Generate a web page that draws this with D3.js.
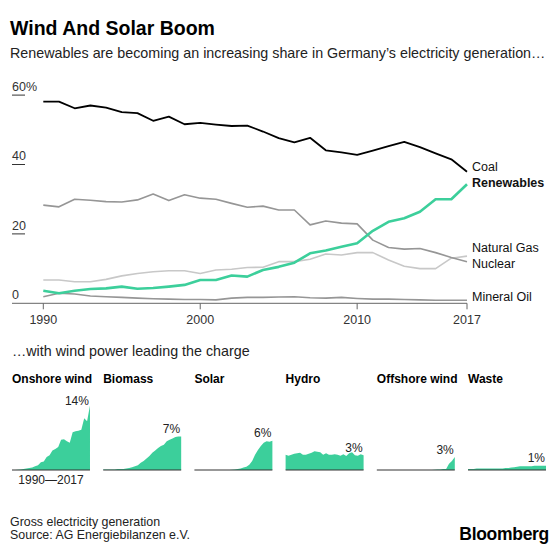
<!DOCTYPE html>
<html><head><meta charset="utf-8">
<script src="https://cdn.jsdelivr.net/npm/d3@7"></script>
<style>
body{margin:0;background:#fff}
svg{display:block}
text{font-family:"Liberation Sans",Arial,Helvetica,sans-serif}
</style>
</head><body>
<svg id="c" width="560" height="546"></svg>
<script>
// ---------- data ----------
const years = [1990,1991,1992,1993,1994,1995,1996,1997,1998,1999,2000,2001,2002,2003,2004,2005,2006,2007,2008,2009,2010,2011,2012,2013,2014,2015,2016,2017];
const coal       = [58.1,58.1,56.2,57.0,56.4,55.1,54.8,52.6,53.8,51.6,52.0,51.5,51.1,51.2,49.5,47.6,46.4,47.7,44.1,43.5,42.8,44.0,45.3,46.5,45.0,43.2,41.5,37.9];
const renewables = [3.6,2.9,3.6,4.1,4.3,4.8,4.2,4.4,4.8,5.3,6.7,6.7,8.0,7.7,9.6,10.5,11.7,14.4,15.2,16.3,17.3,20.9,23.5,24.5,26.4,30.0,30.0,34.3];
const naturalGas = [6.7,6.7,6.2,6.2,6.9,7.9,8.6,9.1,9.4,9.4,8.6,9.6,9.8,10.3,10.4,12.0,12.0,12.7,14.2,13.9,14.6,14.6,12.5,10.7,10.0,10.0,13.0,13.6];
const nuclear    = [28.3,27.8,30.0,29.7,29.3,29.2,29.8,31.5,29.6,31.3,30.3,30.0,28.8,27.7,28.0,26.9,26.9,22.6,23.7,23.1,22.9,18.2,16.1,15.6,15.8,14.6,13.2,12.0];
const mineralOil = [1.9,2.9,2.7,2.1,1.9,1.7,1.5,1.3,1.2,1.1,1.1,1.0,1.5,1.7,1.7,1.8,1.9,1.6,1.5,1.7,1.4,1.2,1.2,1.1,1.0,0.9,0.9,0.9];
const lineNames  = ["Natural Gas","Nuclear","Mineral Oil","Coal","Renewables"];
const yTicks = [0,20,40,60];
const yTickLabels = ["0","20","40","60%"];
const xTicks = [1990,2000,2010,2017];

const onshoreWind  = [0.0,0.0,0.05,0.1,0.2,0.3,0.4,0.5,0.8,1.0,1.6,1.8,2.7,3.1,4.1,4.4,4.8,6.3,6.4,6.0,5.7,7.9,8.1,8.2,8.4,10.8,10.2,13.5];
const biomass      = [0.1,0.1,0.1,0.1,0.1,0.2,0.2,0.2,0.3,0.4,0.6,0.8,1.0,1.5,1.9,2.4,2.9,3.6,4.1,4.6,5.0,5.3,6.0,6.3,6.6,6.9,7.0,7.0];
const solar        = [0,0,0,0,0,0,0,0,0,0,0,0,0,0.05,0.1,0.2,0.3,0.5,0.7,1.1,1.9,3.2,4.2,5.0,5.7,6.0,5.9,6.1];
const hydro        = [3.2,3.0,3.2,3.4,3.5,3.6,3.2,3.2,3.4,3.6,3.9,3.8,3.7,3.2,3.5,3.2,3.2,3.3,3.2,3.0,3.3,2.9,3.5,3.7,3.1,3.0,3.3,3.1];
const offshoreWind = [0,0,0,0,0,0,0,0,0,0,0,0,0,0,0,0,0,0,0,0,0.03,0.1,0.1,0.2,0.2,1.3,1.9,2.7];
const waste        = [0.2,0.2,0.2,0.3,0.3,0.3,0.3,0.3,0.3,0.3,0.3,0.3,0.3,0.4,0.4,0.5,0.6,0.7,0.8,0.8,0.8,0.8,0.8,0.9,0.9,0.9,0.9,0.9];
const panelNames  = ["Onshore wind","Biomass","Solar","Hydro","Offshore wind","Waste"];
const panelLabels = ["14%","7%","6%","3%","3%","1%"];

// ---------- chart ----------
const svg = d3.select("#c");
const GREEN = "#3ccf9b";

svg.append("text").attr("x",10).attr("y",34.5).attr("font-size",19.5).attr("font-weight","bold")
  .attr("fill","#000").text("Wind And Solar Boom");
svg.append("text").attr("x",10).attr("y",58).attr("font-size",14.3).attr("fill","#222")
  .text("Renewables are becoming an increasing share in Germany\u2019s electricity generation\u2026");

const x = d3.scaleLinear().domain([1990,2017]).range([43.3,467]);
const y = d3.scaleLinear().domain([0,60]).range([303.3,95.1]);

// y ticks
const yg = svg.append("g");
yTicks.forEach((t,i)=>{
  if(t!==0) yg.append("line").attr("x1",12).attr("x2",25).attr("y1",y(t)).attr("y2",y(t))
      .attr("stroke","#333").attr("stroke-width",1);
  yg.append("text").attr("x",12).attr("y",y(t)-4.3).attr("font-size",12.5).attr("fill","#333").text(yTickLabels[i]);
});
// baseline
svg.append("line").attr("x1",12).attr("x2",467).attr("y1",y(0)).attr("y2",y(0)).attr("stroke","#666").attr("stroke-width",1);
xTicks.forEach(t=>{
  svg.append("line").attr("x1",x(t)).attr("x2",x(t)).attr("y1",y(0)).attr("y2",y(0)+6).attr("stroke","#666");
  svg.append("text").attr("x",x(t)).attr("y",324).attr("text-anchor","middle").attr("font-size",12.5).attr("fill","#333").text(t);
});

const seriesData = {"Coal":coal,"Renewables":renewables,"Natural Gas":naturalGas,"Nuclear":nuclear,"Mineral Oil":mineralOil};
const styles = {
  "Coal":{c:"#000",w:1.8},
  "Renewables":{c:GREEN,w:2.6},
  "Natural Gas":{c:"#c8c8c8",w:1.6},
  "Nuclear":{c:"#969696",w:1.6},
  "Mineral Oil":{c:"#969696",w:1.6}
};
const line = d3.line().x((d,i)=>x(years[i])).y(d=>y(d));
lineNames.forEach(n=>{
  svg.append("path").attr("d",line(seriesData[n])).attr("fill","none")
    .attr("stroke",styles[n].c).attr("stroke-width",styles[n].w).attr("stroke-linejoin","round");
});

// end labels with simple collision avoidance
const labs = lineNames.map(n=>({n, y:y(seriesData[n][years.length-1])-3.5})).sort((a,b)=>a.y-b.y);
for(let it=0;it<50;it++){
  for(let i=1;i<labs.length;i++){
    const d = labs[i].y-labs[i-1].y;
    if(d<16){const m=(16-d)/2; labs[i].y+=m; labs[i-1].y-=m;}
  }
}
labs.forEach(l=>{
  svg.append("text").attr("x",472).attr("y",l.y).attr("dy","0.36em").attr("font-size",12.5)
    .attr("font-weight",l.n==="Renewables"?"bold":"normal").attr("fill","#111").text(l.n);
});

// ---------- small multiples ----------
svg.append("text").attr("x",12).attr("y",356).attr("font-size",14.3).attr("fill","#222")
  .text("\u2026with wind power leading the charge");

const panelData = [onshoreWind,biomass,solar,hydro,offshoreWind,waste];
const px = d3.scaleBand().domain(panelNames).range([12,546]).paddingInner(0.145);
const sy = d3.scaleLinear().domain([0,14]).range([470,403]);
panelNames.forEach((n,k)=>{
  const g = svg.append("g").attr("transform",`translate(${px(n)},0)`);
  const sx = d3.scaleLinear().domain([1990,2017]).range([0,px.bandwidth()]);
  const area = d3.area().x((d,i)=>sx(years[i])).y0(sy(0)).y1(d=>sy(d));
  g.append("text").attr("x",0).attr("y",382.5).attr("font-size",12).attr("font-weight","bold").attr("fill","#000").text(n);
  g.append("path").attr("d",area(panelData[k])).attr("fill",GREEN);
  g.append("line").attr("x1",0).attr("x2",px.bandwidth()).attr("y1",sy(0)).attr("y2",sy(0)).attr("stroke","#333").attr("stroke-width",1.2);
  const last = panelData[k][years.length-1];
  g.append("text").attr("x",px.bandwidth()-1).attr("y",Math.max(sy(last)-3.5,405)).attr("text-anchor","end")
    .attr("font-size",12).attr("fill","#222").text(panelLabels[k]);
});
svg.append("text").attr("x",px(panelNames[0])+px.bandwidth()/2).attr("y",483.5).attr("text-anchor","middle")
  .attr("font-size",12).attr("fill","#222").text(years[0]+"\u2014"+years[years.length-1]);

// ---------- footer ----------
svg.append("text").attr("x",10).attr("y",525.5).attr("font-size",12.4).attr("fill","#222").text("Gross electricity generation");
svg.append("text").attr("x",10).attr("y",539).attr("font-size",12.4).attr("fill","#222").text("Source: AG Energiebilanzen e.V.");
svg.append("text").attr("x",549).attr("y",540).attr("text-anchor","end").attr("font-size",17.5).attr("font-weight","bold")
  .attr("fill","#000").attr("letter-spacing","-0.3").text("Bloomberg");
</script>
</body></html>
